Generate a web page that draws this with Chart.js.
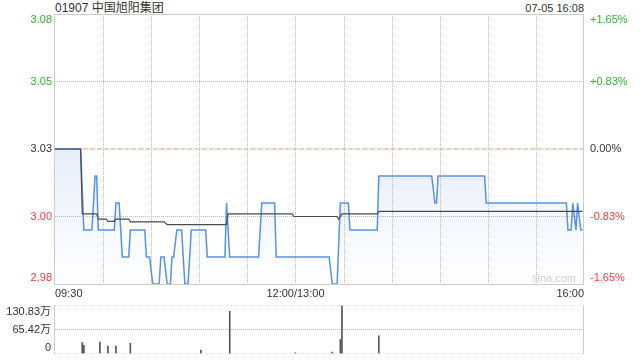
<!DOCTYPE html>
<html lang="zh">
<head>
  <meta charset="UTF-8" />
  <title>01907 中国旭阳集团</title>
  <script src="https://cdn.jsdelivr.net/npm/chart.js"></script>
  <style>
    body { margin: 0; background: #fff; }
    #wrap { position: relative; width: 640px; height: 360px; font-family: "Liberation Sans", Arial, "Noto Sans CJK SC", sans-serif; color: #333; }
    #wrap canvas { position: absolute; left: 0; }
    #priceChart { top: 0; }
    #volChart { top: 295px; }
    .title { position: absolute; left: 55px; top: 1px; font-size: 12px; line-height: 14px; }
    .stamp { position: absolute; right: 56px; top: 2px; font-size: 11px; line-height: 13px; }
    .mark { position: absolute; left: 532px; top: 272px; font-size: 11px; line-height: 13px; color: #cfcfcf; }
  </style>
</head>
<body>
  <div id="wrap">
    <div class="title">01907 中国旭阳集团</div>
    <div class="stamp">07-05 16:08</div>
    <canvas id="volChart" width="640" height="65"></canvas>
    <canvas id="priceChart" width="640" height="300"></canvas>
    <div class="mark">sina.com</div>
  </div>

  <script>
    // minutes since 09:30 (lunch break removed), prices in HKD
    const priceTimes = [0, 16, 18, 23, 25, 26, 27, 37, 38, 40, 42, 46, 47, 56, 57, 59, 61, 65, 66, 68,
      70, 72, 73, 74, 76, 79, 81, 83, 85, 94, 95, 106, 107, 109, 127, 129, 137, 138, 171, 173,
      176, 178, 183, 184, 201, 202, 235, 237, 238, 239, 268, 269, 319, 320, 322, 323, 325, 326, 328, 329];
    const prices = [3.03, 3.03, 3.00, 3.00, 3.02, 3.02, 3.00, 3.00, 3.01, 3.01, 2.99, 2.99, 3.00, 3.00, 2.99, 2.99, 2.98, 2.98, 2.99, 2.99,
      2.98, 2.98, 2.99, 2.99, 3.00, 3.00, 2.98, 2.98, 3.00, 3.00, 2.99, 2.99, 3.01, 2.99, 2.99, 3.01, 3.01, 2.99, 2.99, 2.98,
      2.98, 3.01, 3.01, 3.00, 3.00, 3.02, 3.02, 3.01, 3.01, 3.02, 3.02, 3.01, 3.01, 3.00, 3.00, 3.01, 3.00, 3.01, 3.00, 3.00];

    const avgTimes = [0, 16, 17, 26, 27, 32, 33, 37, 38, 46, 47, 68, 70, 107, 108, 148, 149, 176, 177, 179, 201, 202, 329];
    const avgPrices = [3.03, 3.03, 3.006, 3.006, 3.004, 3.004, 3.0032, 3.0032, 3.004, 3.004, 3.003, 3.003, 3.002, 3.002,
      3.006, 3.006, 3.005, 3.005, 3.004, 3.006, 3.006, 3.0069, 3.0069];

    const prevClose = 3.03;
    const sessionEnd = 330;

    // volume in 万 shares
    const volTimes = [17, 18, 28, 33, 38, 47, 91, 109, 150, 173, 178, 179, 202];
    const volValues = [30, 22, 31, 20, 20, 28, 9, 115, 2, 4, 38, 130.83, 48];

    const priceTicks = [2.98, 3.005, 3.03, 3.055, 3.08];
    const priceLabels = ['2.98', '3.00', '3.03', '3.05', '3.08'];
    const pctLabels = ['-1.65%', '-0.83%', '0.00%', '+0.83%', '+1.65%'];
    const tickColors = ['#f03c3c', '#f03c3c', '#333333', '#2fb52f', '#2fb52f'];

    const timeGrid = [30, 60, 90, 120, 150, 180, 210, 240, 270, 300];
    const timeTicks = [0, 150, 330];
    const timeLabels = ['09:30', '12:00/13:00', '16:00'];

    const volTicks = [0, 65.415, 130.83];
    const volLabels = ['0', '65.42万', '130.83万'];

    const FONT = '"Liberation Sans", Arial, "Noto Sans CJK SC", sans-serif';
    const GRID = '#bdbdbd';
    const BOX = '#cccccc';
    Chart.defaults.font.family = FONT;
    Chart.defaults.font.size = 11;
    Chart.defaults.color = '#333';

    const pts = (xs, ys) => xs.map((x, i) => ({ x, y: ys[i] }));

    // horizontal dotted grid as flat line datasets
    const gridLine = v => ({
      type: 'line',
      data: pts([0, sessionEnd], [v, v]),
      borderColor: GRID,
      borderWidth: 1,
      borderDash: [1, 1],
      pointRadius: 0,
      fill: false
    });

    // vertical dotted grid, frame and side labels (edge labels pulled inside like the original)
    const frame = {
      id: 'frame',
      beforeDatasetsDraw(chart, args, opts) {
        const { ctx, chartArea: a } = chart;
        const t = Math.round(a.top), b = Math.round(a.bottom);
        ctx.save();
        ctx.fillStyle = GRID;
        (opts.gridX || []).forEach(v => {
          const x = Math.round(chart.scales.x.getPixelForValue(v));
          for (let y = t; y <= b; y += 2) ctx.fillRect(x, y, 1, 1);
        });
        ctx.restore();
      },
      afterDraw(chart, args, opts) {
        const { ctx, chartArea: a } = chart;
        const l = Math.round(a.left), r = Math.round(a.right), t = Math.floor(a.top), b = Math.floor(a.bottom);
        ctx.save();
        ctx.fillStyle = BOX;
        opts.box.forEach(side => {
          if (side === 'top') ctx.fillRect(l, t, r - l, 1);
          if (side === 'bottom') ctx.fillRect(l, b, r - l, 1);
          if (side === 'left') ctx.fillRect(l - 1, t, 1, b - t + 1);
          if (side === 'right') ctx.fillRect(r - 1, t, 1, b - t + 1);
        });
        ctx.font = '11px ' + FONT;
        ctx.textBaseline = 'middle';
        opts.sets.forEach(set => {
          const scale = chart.scales[set.axis];
          ctx.textAlign = set.align;
          set.values.forEach((v, i) => {
            let y = scale.getPixelForValue(v);
            if (i === 0) y -= 6;
            if (i === set.values.length - 1) y += 6;
            ctx.fillStyle = set.colors ? set.colors[i] : '#333';
            ctx.fillText(set.labels[i], set.x, y);
          });
        });
        ctx.restore();
      }
    };

    const priceCtx = document.getElementById('priceChart').getContext('2d');
    new Chart(priceCtx, {
      type: 'line',
      data: {
        datasets: [
          {
            data: pts(avgTimes, avgPrices),
            borderColor: '#4a4a4a',
            borderWidth: 1.2,
            pointRadius: 0,
            fill: false
          },
          {
            data: pts(priceTimes, prices),
            borderColor: '#5591ee',
            borderWidth: 1.5,
            pointRadius: 0,
            fill: 'start',
            backgroundColor: (c) => {
              const area = c.chart.chartArea;
              if (!area) return 'rgba(80,140,235,0.15)';
              const g = c.chart.ctx.createLinearGradient(0, area.top, 0, area.bottom);
              g.addColorStop(0, 'rgba(80,140,235,0.22)');
              g.addColorStop(0.5, 'rgba(80,140,235,0.14)');
              g.addColorStop(1, 'rgba(80,140,235,0)');
              return g;
            }
          },
          {
            data: pts([0, sessionEnd], [prevClose, prevClose]),
            borderColor: '#f2a676',
            borderWidth: 1,
            borderDash: [4, 3],
            pointRadius: 0,
            fill: false
          },
          ...priceTicks.slice(1, 4).map(gridLine)
        ]
      },
      options: {
        responsive: false,
        animation: false,
        layout: { padding: { top: 14 } },
        plugins: {
          legend: { display: false },
          tooltip: { enabled: false },
          frame: {
            gridX: timeGrid,
            box: ['top', 'bottom', 'left', 'right'],
            sets: [
              { axis: 'y', values: priceTicks, labels: priceLabels, colors: tickColors, align: 'right', x: 52 },
              { axis: 'y2', values: priceTicks, labels: pctLabels, colors: tickColors, align: 'left', x: 590 }
            ]
          }
        },
        scales: {
          x: {
            type: 'linear',
            min: 0,
            max: sessionEnd,
            afterBuildTicks: s => { s.ticks = timeTicks.map(v => ({ value: v })); },
            afterFit: s => { s.height = 16; },
            grid: { display: false, drawTicks: false },
            border: { display: false },
            ticks: {
              autoSkip: false,
              maxRotation: 0,
              align: 'inner',
              padding: 3,
              color: '#333',
              callback: v => timeLabels[timeTicks.indexOf(v)]
            }
          },
          y: {
            position: 'left',
            min: priceTicks[0],
            max: priceTicks[priceTicks.length - 1],
            afterFit: s => { s.width = 55; },
            grid: { display: false, drawTicks: false },
            border: { display: false },
            ticks: { display: false }
          },
          y2: {
            position: 'right',
            min: priceTicks[0],
            max: priceTicks[priceTicks.length - 1],
            afterFit: s => { s.width = 56; },
            grid: { display: false, drawTicks: false },
            border: { display: false },
            ticks: { display: false }
          }
        }
      },
      plugins: [frame]
    });

    const volCtx = document.getElementById('volChart').getContext('2d');
    new Chart(volCtx, {
      type: 'bar',
      data: {
        datasets: [
          {
            data: pts(volTimes, volValues),
            backgroundColor: '#555555',
            barThickness: 1
          },
          ...volTicks.map(gridLine)
        ]
      },
      options: {
        responsive: false,
        animation: false,
        layout: { padding: { top: 10.5, bottom: 6.5, right: 56 } },
        plugins: {
          legend: { display: false },
          tooltip: { enabled: false },
          frame: {
            box: ['left', 'right'],
            sets: [
              { axis: 'y', values: volTicks, labels: volLabels, align: 'right', x: 51 }
            ]
          }
        },
        scales: {
          x: {
            type: 'linear',
            min: 0,
            max: sessionEnd,
            offset: false,
            display: false
          },
          y: {
            min: 0,
            max: volTicks[volTicks.length - 1],
            afterFit: s => { s.width = 55; },
            grid: { display: false, drawTicks: false },
            border: { display: false },
            ticks: { display: false }
          }
        }
      },
      plugins: [frame]
    });
  </script>
</body>
</html>
